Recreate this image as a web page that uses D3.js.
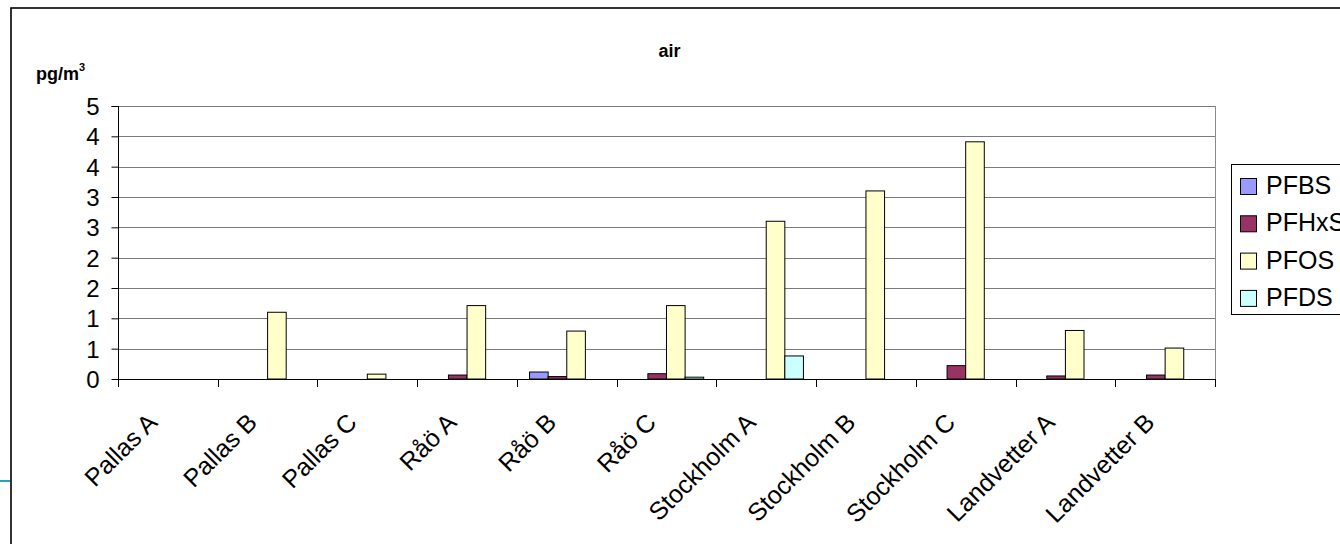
<!DOCTYPE html>
<html>
<head>
<meta charset="utf-8">
<script src="https://cdn.jsdelivr.net/npm/d3@7"></script>
<style>
html,body{margin:0;padding:0;background:#fff;}
svg{display:block;font-family:Arial,"Liberation Sans",sans-serif;}
</style>
</head>
<body>
<svg id="chart" width="1340" height="544"></svg>
<script>
const categories = ["Pallas A","Pallas B","Pallas C","Råö A","Råö B","Råö C","Stockholm A","Stockholm B","Stockholm C","Landvetter A","Landvetter B"];
const seriesNames = ["PFBS","PFHxS","PFOS","PFDS"];
const seriesColors = ["#9999FF","#993366","#FFFFCC","#CCFFFF"];
const PFBS  = [0, 0, 0, 0, 0.115, 0, 0, 0, 0, 0, 0];
const PFHxS = [0, 0, 0, 0.065, 0.04, 0.087, 0, 0, 0.22, 0.05, 0.065];
const PFOS  = [0, 1.10, 0.08, 1.21, 0.79, 1.21, 2.60, 3.10, 3.91, 0.80, 0.51];
const PFDS  = [0, 0, 0, 0, 0, 0.03, 0.38, 0, 0, 0, 0];
const yTickValues = [0,0.5,1,1.5,2,2.5,3,3.5,4,4.5];
const yTickLabels = ["0","1","1","2","2","3","3","4","4","5"];
const titleText = "air";
const yUnit = "pg/m";
const yUnitSup = "3";

const seriesValues = [PFBS, PFHxS, PFOS, PFDS];

const svg = d3.select("#chart");
const plot = {left:118, right:1215, top:106, bottom:379};

const x0 = d3.scaleBand().domain(categories).range([plot.left, plot.right]).paddingInner(0).paddingOuter(0);
const x1 = d3.scaleBand().domain(seriesNames).range([0, x0.bandwidth()]).paddingInner(0).paddingOuter(0.68);
const y = d3.scaleLinear().domain([0, 4.5]).range([plot.bottom, plot.top]);

// outer frame
svg.append("rect").attr("x",11).attr("y",8).attr("width",1400).attr("height",600)
  .attr("fill","none").attr("stroke","#000").attr("stroke-width",1.6);
svg.append("line").attr("x1",0).attr("x2",10).attr("y1",481).attr("y2",481)
  .attr("stroke","#1ea7b8").attr("stroke-width",2);

// gridlines
svg.append("g").selectAll("line").data(yTickValues.slice(1)).join("line")
  .attr("x1",plot.left).attr("x2",plot.right)
  .attr("y1",d=>Math.round(y(d))+0.5).attr("y2",d=>Math.round(y(d))+0.5)
  .attr("stroke","#7a7a7a").attr("stroke-width",1);
// right border of plot
svg.append("line").attr("x1",plot.right+0.5).attr("x2",plot.right+0.5)
  .attr("y1",plot.top).attr("y2",plot.bottom).attr("stroke","#8a8a8a");

// bars
const barData = [];
categories.forEach((c,i)=>{
  seriesNames.forEach((s,j)=>{
    const v = seriesValues[j][i];
    if (v > 0) barData.push({c, s, v, color: seriesColors[j]});
  });
});
svg.append("g").selectAll("rect").data(barData).join("rect")
  .attr("x",d=>x0(d.c)+x1(d.s))
  .attr("y",d=>y(d.v))
  .attr("width",x1.bandwidth())
  .attr("height",d=>y(0)-y(d.v))
  .attr("fill",d=>d.color)
  .attr("stroke","#000").attr("stroke-width",1);

// y axis
const yAxis = d3.axisLeft(y).tickValues(yTickValues).tickSize(7).tickPadding(12)
  .tickFormat((d,i)=>yTickLabels[i]);
const gy = svg.append("g").attr("transform",`translate(${plot.left+0.5},0)`).call(yAxis);
gy.select(".domain").attr("stroke","#000").attr("d",`M-7,${plot.top+0.5}H0V${plot.bottom+0.5}`);
gy.selectAll(".tick line").attr("stroke","#000");
gy.selectAll(".tick text").attr("font-size",24).attr("font-family","Arial, 'Liberation Sans', sans-serif").attr("fill","#000").attr("dy","0.36em");

// x axis line and boundary ticks
const boundaries = categories.map(c=>x0(c)).concat([plot.right]);
svg.append("line").attr("x1",plot.left).attr("x2",plot.right)
  .attr("y1",plot.bottom+0.5).attr("y2",plot.bottom+0.5).attr("stroke","#000");
svg.append("g").selectAll("line").data(boundaries).join("line")
  .attr("x1",d=>Math.round(d)+0.5).attr("x2",d=>Math.round(d)+0.5)
  .attr("y1",plot.bottom).attr("y2",plot.bottom+8).attr("stroke","#000");

// x labels
svg.append("g").selectAll("text").data(categories).join("text")
  .attr("transform",d=>`translate(${x0(d)+x0.bandwidth()/2-9},${plot.bottom+45}) rotate(-45)`)
  .attr("text-anchor","end").attr("font-size",25).attr("fill","#000")
  .text(d=>d);

// title
svg.append("text").attr("x",(plot.left+plot.right)/2+3).attr("y",57)
  .attr("text-anchor","middle").attr("font-size",18).attr("font-weight","bold").text(titleText);
const unit = svg.append("text").attr("x",36).attr("y",80).attr("font-size",18).attr("font-weight","bold");
unit.append("tspan").text(yUnit);
unit.append("tspan").attr("font-size",11).attr("dy",-9).text(yUnitSup);

// legend
const lg = svg.append("g");
lg.append("rect").attr("x",1231.5).attr("y",164.5).attr("width",200).attr("height",150)
  .attr("fill","#fff").attr("stroke","#000").attr("stroke-width",1);
const items = lg.selectAll("g.item").data(seriesNames).join("g").attr("class","item")
  .attr("transform",(d,i)=>`translate(0,${i*37.3})`);
items.append("rect").attr("x",1240.5).attr("y",178.5).attr("width",16).attr("height",16)
  .attr("fill",(d,i)=>seriesColors[i]).attr("stroke","#000");
items.append("text").attr("x",1266).attr("y",194).attr("font-size",25).attr("fill","#000").text(d=>d);
</script>
</body>
</html>
